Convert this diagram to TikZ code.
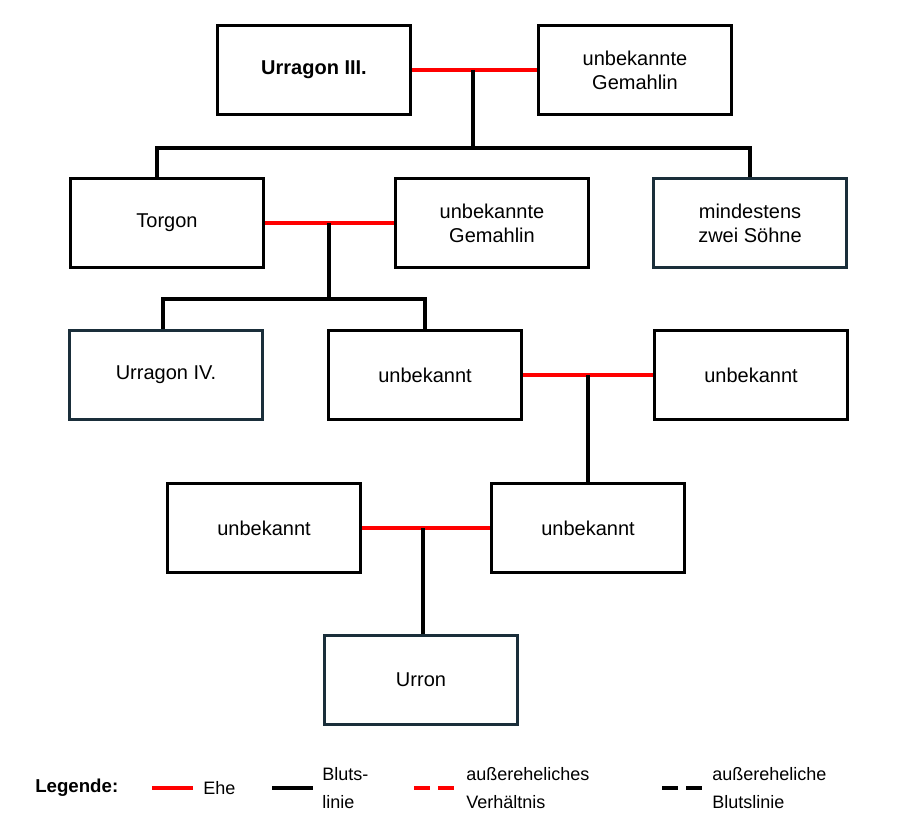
\documentclass[tikz,border=0pt]{standalone}
\usepackage{fontspec}
\setmainfont{Liberation Sans}
\usetikzlibrary{positioning}
\definecolor{darkteal}{HTML}{1A2E3A}
\definecolor{ehered}{HTML}{FF0000}
\tikzset{
  person/.style={rectangle, draw=black, line width=2.2pt, fill=white,
    minimum width=145pt, minimum height=67pt, align=center,
    font=\fontsize{15}{18}\selectfont},
  dark/.style={draw=darkteal},
  ehe/.style={draw=ehered, line width=3.6pt},
  blut/.style={draw=black, line width=3.6pt},
  legtext/.style={font=\fontsize{13.5}{21}\selectfont, align=left, anchor=west, inner sep=0pt}
}
\begin{document}
\begin{tikzpicture}[x=0.75pt,y=-0.75pt]
\useasboundingbox (0,0) rectangle (915,831);
% generation 1
\node [person] (urragon3) at (314,70) {\textbf{Urragon III.}};
\node [person] (gemahlin1) at (635,70) {unbekannte\\Gemahlin};
% generation 2
\node [person] (torgon) at (167,223) {Torgon};
\node [person] (gemahlin2) at (492,223) {unbekannte\\Gemahlin};
\node [person, dark] (soehne) at (750,223) {mindestens\\zwei Söhne};
% generation 3
\node [person, dark] (urragon4) at (166,375) {Urragon IV.};
\node [person] (unbek1) at (425,375) {unbekannt};
\node [person] (unbek2) at (751,375) {unbekannt};
% generation 4
\node [person] (unbek3) at (264,528) {unbekannt};
\node [person] (unbek4) at (588,528) {unbekannt};
% generation 5
\node [person, dark] (urron) at (421,680) {Urron};

% marriages
\coordinate (m1) at (473,70);
\coordinate (m2) at (329,223);
\coordinate (m3) at (588,375);
\coordinate (m4) at (423,528);
\draw [ehe] (urragon3.east) -- (gemahlin1.west);
\draw [ehe] (torgon.east) -- (gemahlin2.west);
\draw [ehe] (unbek1.east) -- (unbek2.west);
\draw [ehe] (unbek3.east) -- (unbek4.west);

% blood lines
\draw [blut] (m1) -- (473,148) -| (torgon.north -| 157,0);
\draw [blut] (473,148) -| (soehne.north);
\draw [blut] (m2) -- (329,299) -| (urragon4.north -| 163,0);
\draw [blut] (329,299) -| (unbek1.north);
\draw [blut] (m3) -- (unbek4.north);
\draw [blut] (m4) -- (urron.north -| m4);

% legend
\node [legtext, font=\fontsize{14}{17}\selectfont\bfseries] (legende) at (35,788) {Legende:};
\coordinate (ehe a) at (152,788); \coordinate (ehe b) at (193,788);
\draw [ehe] (ehe a) -- (ehe b);
\node [legtext] (ehetext) at (203,788) {Ehe};
\coordinate (blut a) at (272,788); \coordinate (blut b) at (313,788);
\draw [blut] (blut a) -- (blut b);
\node [legtext] (bluttext) at (322,788) {Bluts-\\linie};
\coordinate (aehe a) at (414,788); \coordinate (aehe b) at (455,788);
\draw [ehe, dash pattern=on 12pt off 6pt] (aehe a) -- (aehe b);
\node [legtext] (aehetext) at (466,788) {außereheliches\\Verhältnis};
\coordinate (ablut a) at (662,788); \coordinate (ablut b) at (703,788);
\draw [blut, dash pattern=on 12pt off 6pt] (ablut a) -- (ablut b);
\node [legtext] (ablutext) at (712,788) {außereheliche\\Blutslinie};
\end{tikzpicture}
\end{document}
